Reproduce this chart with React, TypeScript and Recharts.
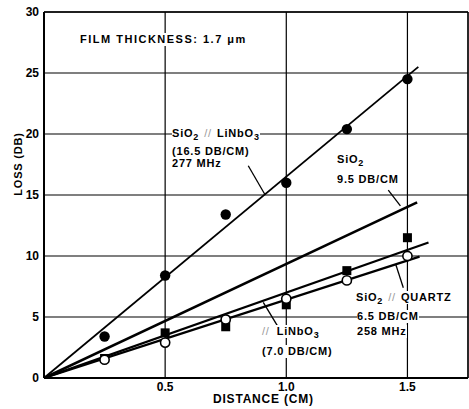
import { ComposedChart, Line, Scatter, XAxis, YAxis, CartesianGrid, ReferenceLine } from "recharts";

// measured distances (cm)
const distance = [0.25, 0.5, 0.75, 1.0, 1.25, 1.5];

// measured loss (dB)
const lossSiO2OnLiNbO3 = [3.4, 8.4, 13.4, 16.0, 20.4, 24.5];
const lossLiNbO3 = [1.6, 3.7, 4.2, 6.0, 8.8, 11.5];
const lossSiO2OnQuartz = [1.5, 2.9, 4.8, 6.5, 8.0, 10.0];

// fitted straight lines, start and end
const fitSiO2OnLiNbO3 = [[0, 0], [1.545, 25.5]];
const fitSiO2 = [[0, 0], [1.54, 14.4]];
const fitLiNbO3 = [[0, 0], [1.587, 11.1]];
const fitSiO2OnQuartz = [[0, 0], [1.55, 9.95]];

// callout arrows
const arrows = [
  [[0.843, 17.4], [0.913, 15.0]],
  [[1.421, 15.4], [1.471, 14.1]],
  [[1.483, 7.4], [1.452, 9.3]],
  [[0.963, 4.3], [0.905, 6.2]],
];

const xTicks = [0.5, 1.0, 1.5];
const yTicks = [0, 5, 10, 15, 20, 25, 30];

const toPoints = (ys: number[]) => distance.map((x, i) => ({ x, y: ys[i] }));
const toLine = (pts: number[][]) => pts.map(([x, y]) => ({ x, y }));

const font = "'Liberation Sans', Arial, sans-serif";

const FilledCircle = (p: any) => <circle cx={p.cx} cy={p.cy} r={5.2} fill="#000" />;
const OpenCircle = (p: any) => <circle cx={p.cx} cy={p.cy} r={4.6} fill="#fff" stroke="#000" strokeWidth={1.6} />;
const FilledSquare = (p: any) => <rect x={p.cx - 4.5} y={p.cy - 4.5} width={9} height={9} fill="#000" />;

const txt: React.CSSProperties = {
  position: "absolute",
  fontFamily: font,
  fontWeight: "bold",
  fontSize: 11,
  lineHeight: "13px",
  color: "#000",
  background: "#fff",
  whiteSpace: "nowrap",
  letterSpacing: 0.8,
};

const sub = (s: string) => <sub style={{ fontSize: 9, lineHeight: 0 }}>{s}</sub>;
const slash = <span style={{ color: "#999", fontWeight: "normal", margin: "0 5px" }}>//</span>;

export default function App() {
  return (
    <div style={{ position: "absolute", left: 0, top: 0, width: 469, height: 409, background: "#fff" }}>
      <ComposedChart width={469} height={409} margin={{ top: 12, right: 1, bottom: 0, left: 0 }}>
        <CartesianGrid stroke="#000" strokeWidth={1.2} />
        <XAxis
          type="number"
          dataKey="x"
          domain={[0, 1.75]}
          ticks={xTicks}
          tickFormatter={(v) => v.toFixed(1)}
          height={31}
          tickSize={0}
          tickMargin={4}
          axisLine={{ stroke: "#000", strokeWidth: 2 }}
          tick={{ fill: "#000", fontSize: 12, fontWeight: "bold", fontFamily: font }}
          allowDataOverflow
        />
        <YAxis
          type="number"
          dataKey="y"
          domain={[0, 30]}
          ticks={yTicks}
          width={44}
          tickSize={0}
          tickMargin={5}
          axisLine={{ stroke: "#000", strokeWidth: 2 }}
          tick={{ fill: "#000", fontSize: 12, fontWeight: "bold", fontFamily: font }}
          allowDataOverflow
        />
        <ReferenceLine x={1.75} stroke="#000" strokeWidth={1.2} />
        <ReferenceLine y={30} stroke="#000" strokeWidth={1.6} />
        {arrows.map((seg, i) => (
          <ReferenceLine
            key={i}
            segment={seg.map(([x, y]) => ({ x, y }))}
            stroke="#000"
            strokeWidth={1.3}
          />
        ))}
        <Line data={toLine(fitSiO2OnLiNbO3)} dataKey="y" stroke="#000" strokeWidth={1.8} dot={false} isAnimationActive={false} />
        <Line data={toLine(fitSiO2)} dataKey="y" stroke="#000" strokeWidth={2.6} dot={false} isAnimationActive={false} />
        <Line data={toLine(fitLiNbO3)} dataKey="y" stroke="#000" strokeWidth={2.2} dot={false} isAnimationActive={false} />
        <Line data={toLine(fitSiO2OnQuartz)} dataKey="y" stroke="#000" strokeWidth={2.2} dot={false} isAnimationActive={false} />
        <Scatter data={toPoints(lossSiO2OnLiNbO3)} dataKey="y" shape={FilledCircle} isAnimationActive={false} />
        <Scatter data={toPoints(lossLiNbO3)} dataKey="y" shape={FilledSquare} isAnimationActive={false} />
        <Scatter data={toPoints(lossSiO2OnQuartz)} dataKey="y" shape={OpenCircle} isAnimationActive={false} />
      </ComposedChart>

      <div style={{ ...txt, left: 80, top: 33, letterSpacing: 1.5 }}>FILM THICKNESS: 1.7 μm</div>

      <div style={{ ...txt, left: 172, top: 127 }}>
        SiO{sub("2")}{slash}LiNbO{sub("3")}
      </div>
      <div style={{ ...txt, left: 172, top: 145 }}>(16.5 DB/CM)</div>
      <div style={{ ...txt, left: 172, top: 157, background: "transparent" }}>277 MHz</div>

      <div style={{ ...txt, left: 337, top: 153 }}>SiO{sub("2")}</div>
      <div style={{ ...txt, left: 337, top: 173 }}>9.5 DB/CM</div>

      <div style={{ ...txt, left: 356, top: 291 }}>
        SiO{sub("2")}{slash}QUARTZ
      </div>
      <div style={{ ...txt, left: 357, top: 310 }}>6.5 DB/CM</div>
      <div style={{ ...txt, left: 357, top: 325 }}>258 MHz</div>

      <div style={{ ...txt, left: 262, top: 325 }}>
        <span style={{ color: "#999", fontWeight: "normal", marginRight: 7 }}>//</span>LiNbO{sub("3")}
      </div>
      <div style={{ ...txt, left: 262, top: 345 }}>(7.0 DB/CM)</div>

      <div style={{ ...txt, left: 213, top: 393, fontSize: 12, letterSpacing: 0.8 }}>DISTANCE (CM)</div>
      <div
        style={{
          ...txt,
          left: 18,
          top: 164,
          transform: "translate(-50%, -50%) rotate(-90deg)",
          background: "transparent",
        }}
      >
        LOSS (DB)
      </div>
    </div>
  );
}
